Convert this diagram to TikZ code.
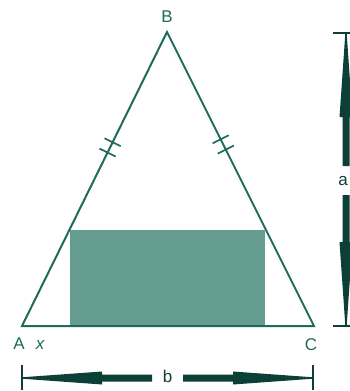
\documentclass[tikz,border=0pt]{standalone}
\usepackage{fontspec}
\setmainfont{Liberation Sans}
\usetikzlibrary{calc}
\definecolor{sideteal}{HTML}{1F6A5B}
\definecolor{boxteal}{HTML}{659C90}
\definecolor{dimteal}{HTML}{0C3F35}
\tikzset{
  side/.style={draw=sideteal, line width=2pt, line join=miter},
  hashmark/.style={draw=sideteal, line width=1.7pt},
  boxfill/.style={fill=boxteal},
  dimline/.style={draw=dimteal, line width=2pt},
  dimfill/.style={fill=dimteal},
  vlabel/.style={text=sideteal, inner sep=0pt, font=\fontsize{17}{19}\selectfont},
}
\begin{document}
\begin{tikzpicture}[x=1pt,y=-1pt]
		\useasboundingbox (0,0) rectangle (350,391);
		% vertices
		\coordinate (A) at (22,326);
		\coordinate (B) at (167,32);
		\coordinate (C) at (314,326);
		% shaded rectangle
		\fill [boxfill] (70,230) rectangle (265,326);
		% triangle
		\draw [side] (A) -- (B) -- (C) -- cycle;
		% equal sides
		\path (A) -- (B) coordinate[pos=0.59] (ab1) coordinate[pos=0.625] (ab2);
		\path (C) -- (B) coordinate[pos=0.60] (cb1) coordinate[pos=0.635] (cb2);
		\foreach \p/\q in {ab1/B,ab2/B,cb1/B,cb2/B}
			\draw [hashmark] ($(\p)!9pt!90:(\q)$) -- ($(\p)!9pt!-90:(\q)$);
		% labels
		\node [vlabel] (lB) at (167,17) {B};
		\node [vlabel] (lA) at (19,344) {A};
		\node [vlabel] (lx) at (40,345) {\itshape x};
		\node [vlabel] (lC) at (311,345) {C};
		\node [vlabel, text=dimteal] (lb) at (167.5,376) {b};
		\node [vlabel, text=dimteal] (la) at (343,181) {a};
		% width b
		\draw [dimline] (22,365) -- (22,390);
		\draw [dimline] (313,365) -- (313,390);
		\draw [dimline] (22,378) -- (30,378);
		\draw [dimline] (305,378) -- (313,378);
		\fill [dimfill] (26,377) -- (102,371.5) -- (102,374.5) -- (152,374.5) -- (152,381.5) -- (102,381.5) -- (102,384.5) -- (26,379) -- cycle;
		\fill [dimfill] (309,377) -- (233,371.5) -- (233,374.5) -- (183,374.5) -- (183,381.5) -- (233,381.5) -- (233,384.5) -- (309,379) -- cycle;
		% height a
		\draw [dimline] (333,33) -- (360,33);
		\draw [dimline] (333,326) -- (360,326);
		\draw [dimline] (346,33) -- (346,41);
		\draw [dimline] (346,318) -- (346,326);
		\fill [dimfill] (345,38) -- (339.5,117) -- (342.5,117) -- (342.5,166) -- (349.5,166) -- (349.5,117) -- (352.5,117) -- (347,38) -- cycle;
		\fill [dimfill] (345,321) -- (339.5,242) -- (342.5,242) -- (342.5,195) -- (349.5,195) -- (349.5,242) -- (352.5,242) -- (347,321) -- cycle;
\end{tikzpicture}
\end{document}
